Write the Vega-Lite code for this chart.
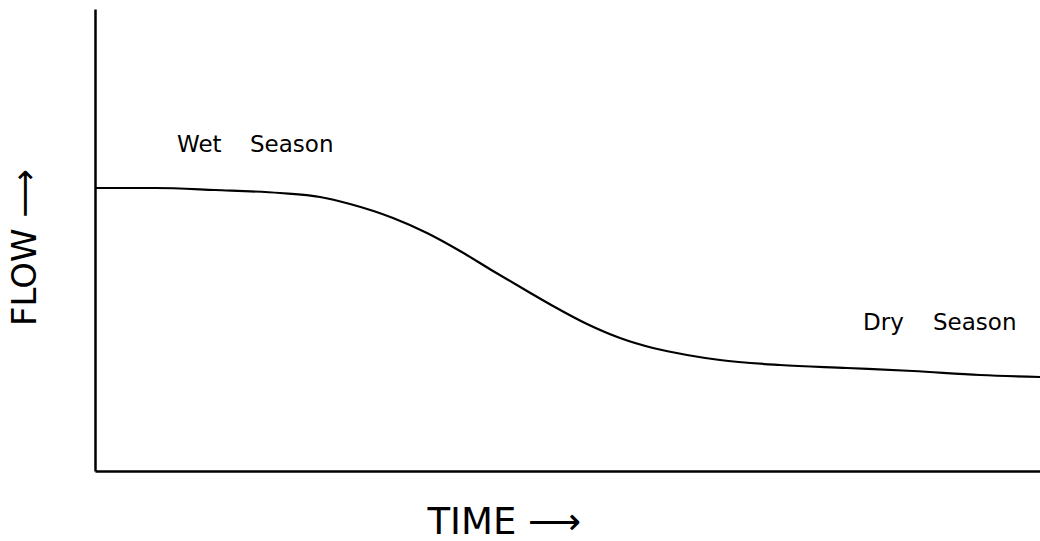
{
  "$schema": "https://vega.github.io/schema/vega-lite/v6.json",
  "autosize": "none",
  "width": 945,
  "height": 462,
  "padding": {"left": 95, "top": 9, "right": 0, "bottom": 70},
  "background": "white",
  "config": {"view": {"stroke": null}, "font": "DejaVu Sans"},
  "datasets": {
    "curve": [
      {"t": 0, "flow": 283}, {"t": 60, "flow": 283}, {"t": 120, "flow": 281},
      {"t": 185, "flow": 278}, {"t": 225, "flow": 274}, {"t": 255, "flow": 267},
      {"t": 298, "flow": 253}, {"t": 332, "flow": 238}, {"t": 365, "flow": 220},
      {"t": 398, "flow": 200}, {"t": 432, "flow": 180}, {"t": 458, "flow": 165},
      {"t": 492, "flow": 147}, {"t": 525, "flow": 133}, {"t": 558, "flow": 123},
      {"t": 592, "flow": 116}, {"t": 625, "flow": 111}, {"t": 685, "flow": 106},
      {"t": 752, "flow": 103}, {"t": 818, "flow": 100}, {"t": 885, "flow": 96},
      {"t": 945, "flow": 94}
    ],
    "labels": [
      {"label": "Wet", "t": 82, "flow": 319},
      {"label": "Season", "t": 155, "flow": 319},
      {"label": "Dry", "t": 768, "flow": 141},
      {"label": "Season", "t": 838, "flow": 141}
    ]
  },
  "layer": [
    {
      "data": {"name": "curve"},
      "mark": {"type": "line", "color": "black", "strokeWidth": 2.2, "interpolate": "monotone"},
      "encoding": {
        "x": {"field": "t", "type": "quantitative", "scale": {"domain": [0, 945], "nice": false},
          "axis": {"title": "TIME ⟶", "labels": false, "ticks": false, "grid": false,
            "domainColor": "black", "domainWidth": 2.5,
            "titleFontSize": 37, "titleFontWeight": "normal", "titleColor": "black",
            "titleX": 332, "titleY": 62, "titleBaseline": "alphabetic", "titleAlign": "left"}},
        "y": {"field": "flow", "type": "quantitative", "scale": {"domain": [0, 462], "nice": false},
          "axis": {"title": "FLOW ⟶", "labels": false, "ticks": false, "grid": false,
            "domainColor": "black", "domainWidth": 2.5,
            "titleFontSize": 34, "titleFontWeight": "normal", "titleColor": "black",
            "titleX": -60, "titleY": 238, "titleAngle": -90, "titleBaseline": "alphabetic", "titleAlign": "center"}}
      }
    },
    {
      "data": {"name": "labels"},
      "mark": {"type": "text", "align": "left", "baseline": "alphabetic", "fontSize": 23, "color": "black"},
      "encoding": {
        "x": {"field": "t", "type": "quantitative"},
        "y": {"field": "flow", "type": "quantitative"},
        "text": {"field": "label"}
      }
    }
  ]
}
